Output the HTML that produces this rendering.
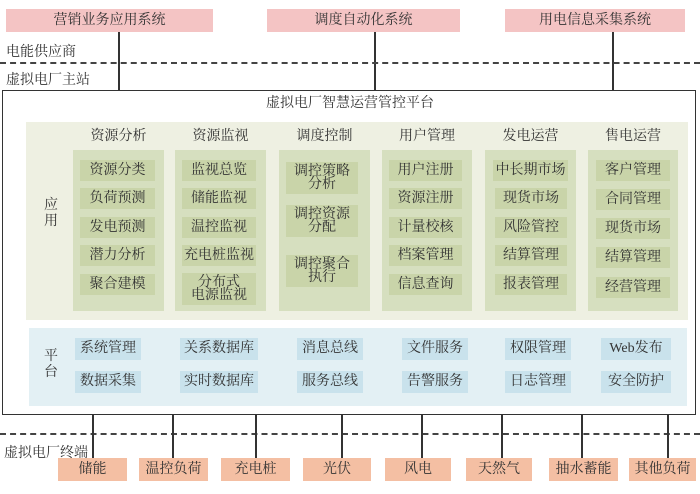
<!DOCTYPE html>
<html><head><meta charset="utf-8"><style>
body{margin:0;width:700px;height:494px;background:#fff;position:relative;overflow:hidden;font-family:"Liberation Serif","Noto Serif CJK SC","Noto Sans CJK SC",serif;color:#333}
div{position:absolute;box-sizing:border-box}
.c{display:flex;align-items:center;justify-content:center;text-align:center;line-height:1}
.pk{background:#f4c4c4;font-size:14px;height:23px;top:9px}
.vl{width:1.5px;background:#333}
.dash{height:0;border-top:2px dashed #444;left:0;width:700px}
.col{top:150px;height:161px;background:#d6dfbf}
.it{background:#c9d4a9;font-size:14px;height:21px}
.hd{font-size:14px;top:128px;height:18px}
.pf{background:#c9e2ec;font-size:14px;height:22px}
.tm{background:#f4bfa3;font-size:14px;top:458px;height:23px}
</style></head><body>
<div class="pk c" style="left:6px;width:207px">营销业务应用系统</div>
<div class="pk c" style="left:267px;width:193px">调度自动化系统</div>
<div class="pk c" style="left:505px;width:180px">用电信息采集系统</div>
<div class="vl" style="left:118px;top:32px;height:58px"></div>
<div class="vl" style="left:374px;top:32px;height:58px"></div>
<div class="vl" style="left:612px;top:32px;height:58px"></div>
<div style="left:6px;top:41px;font-size:14px">电能供应商</div>
<div class="dash" style="top:62px"></div>
<div style="left:6px;top:69px;font-size:14px">虚拟电厂主站</div>
<div style="left:2px;top:90px;width:694px;height:325px;border:1.5px solid #333"></div>
<div class="c" style="left:0;width:700px;top:95px;height:18px;font-size:14px">虚拟电厂智慧运营管控平台</div>
<div style="left:26px;top:122px;width:662px;height:198px;background:#eef0e2"></div>
<div style="left:44px;top:198px;width:16px;font-size:14px;line-height:16px">应<br>用</div>
<div class="hd c" style="left:73px;width:91px">资源分析</div>
<div class="hd c" style="left:175px;width:91px">资源监视</div>
<div class="hd c" style="left:279px;width:91px">调度控制</div>
<div class="hd c" style="left:382px;width:90px">用户管理</div>
<div class="hd c" style="left:485px;width:91px">发电运营</div>
<div class="hd c" style="left:588px;width:90px">售电运营</div>
<div class="col" style="left:73px;width:91px"></div>
<div class="col" style="left:175px;width:91px"></div>
<div class="col" style="left:279px;width:91px"></div>
<div class="col" style="left:382px;width:90px"></div>
<div class="col" style="left:485px;width:91px"></div>
<div class="col" style="left:588px;width:90px"></div>
<div class="it c" style="left:80px;width:75px;top:160px">资源分类</div>
<div class="it c" style="left:80px;width:75px;top:188px">负荷预测</div>
<div class="it c" style="left:80px;width:75px;top:217px">发电预测</div>
<div class="it c" style="left:80px;width:75px;top:245px">潜力分析</div>
<div class="it c" style="left:80px;width:75px;top:274px">聚合建模</div>
<div class="it c" style="left:182px;width:74px;top:160px">监视总览</div>
<div class="it c" style="left:182px;width:74px;top:188px">储能监视</div>
<div class="it c" style="left:182px;width:74px;top:217px">温控监视</div>
<div class="it c" style="left:182px;width:74px;top:245px">充电桩监视</div>
<div class="it c" style="left:182px;width:74px;top:273px;height:32px;line-height:13px">分布式<br>电源监视</div>
<div class="it c" style="left:286px;width:72px;top:162px;height:32px;line-height:13px">调控策略<br>分析</div>
<div class="it c" style="left:286px;width:72px;top:205px;height:32px;line-height:13px">调控资源<br>分配</div>
<div class="it c" style="left:286px;width:72px;top:255px;height:32px;line-height:13px">调控聚合<br>执行</div>
<div class="it c" style="left:389px;width:73px;top:160px">用户注册</div>
<div class="it c" style="left:389px;width:73px;top:188px">资源注册</div>
<div class="it c" style="left:389px;width:73px;top:217px">计量校核</div>
<div class="it c" style="left:389px;width:73px;top:245px">档案管理</div>
<div class="it c" style="left:389px;width:73px;top:274px">信息查询</div>
<div class="it c" style="left:493px;width:75px;top:160px">中长期市场</div>
<div class="it c" style="left:495px;width:72px;top:188px">现货市场</div>
<div class="it c" style="left:495px;width:72px;top:217px">风险管控</div>
<div class="it c" style="left:495px;width:72px;top:245px">结算管理</div>
<div class="it c" style="left:495px;width:72px;top:274px">报表管理</div>
<div class="it c" style="left:596px;width:74px;top:160px">客户管理</div>
<div class="it c" style="left:596px;width:74px;top:189px">合同管理</div>
<div class="it c" style="left:596px;width:74px;top:218px">现货市场</div>
<div class="it c" style="left:596px;width:74px;top:247px">结算管理</div>
<div class="it c" style="left:596px;width:74px;top:277px">经营管理</div>
<div style="left:29px;top:328px;width:658px;height:78px;background:#e3f0f4"></div>
<div style="left:44px;top:349px;width:16px;font-size:14px;line-height:16px">平<br>台</div>
<div class="pf c" style="left:75px;width:66px;top:338px">系统管理</div>
<div class="pf c" style="left:75px;width:66px;top:371px">数据采集</div>
<div class="pf c" style="left:180px;width:78px;top:338px">关系数据库</div>
<div class="pf c" style="left:180px;width:78px;top:371px">实时数据库</div>
<div class="pf c" style="left:297px;width:66px;top:338px">消息总线</div>
<div class="pf c" style="left:297px;width:66px;top:371px">服务总线</div>
<div class="pf c" style="left:402px;width:66px;top:338px">文件服务</div>
<div class="pf c" style="left:402px;width:66px;top:371px">告警服务</div>
<div class="pf c" style="left:505px;width:66px;top:338px">权限管理</div>
<div class="pf c" style="left:505px;width:66px;top:371px">日志管理</div>
<div class="pf c" style="left:601px;width:70px;top:338px">Web发布</div>
<div class="pf c" style="left:601px;width:70px;top:371px">安全防护</div>
<div class="dash" style="top:433px"></div>
<div style="left:4px;top:442px;font-size:14px">虚拟电厂终端</div>
<div class="vl" style="left:92px;top:415px;height:43px"></div>
<div class="vl" style="left:172px;top:415px;height:43px"></div>
<div class="vl" style="left:255px;top:415px;height:43px"></div>
<div class="vl" style="left:341px;top:415px;height:43px"></div>
<div class="vl" style="left:421px;top:415px;height:43px"></div>
<div class="vl" style="left:501px;top:415px;height:43px"></div>
<div class="vl" style="left:581px;top:415px;height:43px"></div>
<div class="vl" style="left:667px;top:415px;height:43px"></div>
<div class="tm c" style="left:58px;width:69px">储能</div>
<div class="tm c" style="left:139px;width:69px">温控负荷</div>
<div class="tm c" style="left:221px;width:69px">充电桩</div>
<div class="tm c" style="left:303px;width:68px">光伏</div>
<div class="tm c" style="left:385px;width:66px">风电</div>
<div class="tm c" style="left:466px;width:66px">天然气</div>
<div class="tm c" style="left:549px;width:69px">抽水蓄能</div>
<div class="tm c" style="left:629px;width:67px">其他负荷</div>
</body></html>
